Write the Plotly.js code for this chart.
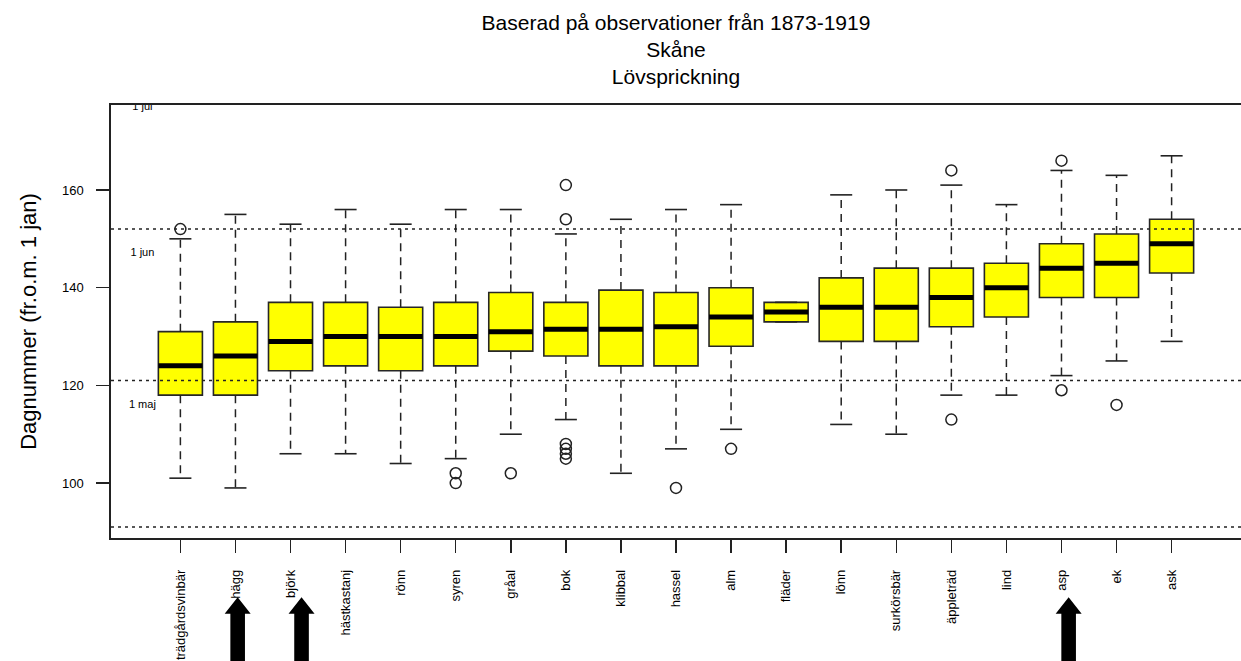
<!DOCTYPE html>
<html>
<head>
<meta charset="utf-8">
<script src="https://cdn.plot.ly/plotly-3.0.1.min.js"></script>
<style>html,body{margin:0;padding:0;background:#fff;}#chart{width:1241px;height:661px;}</style>
</head>
<body>
<div id="chart"></div>
<script>
// ---- data ----
var categories = ["trädgårdsvinbär","hägg","björk","hästkastanj","rönn","syren","gråal","bok","klibbal","hassel","alm","fläder","lönn","surkörsbär","äppleträd","lind","asp","ek","ask"];
var lowerWhisker = [101, 99, 106, 106, 104, 105, 110, 113, 102, 107, 111, 133, 112, 110, 118, 118, 122, 125, 129];
var q1Values     = [118, 118, 123, 124, 123, 124, 127, 126, 124, 124, 128, 133, 129, 129, 132, 134, 138, 138, 143];
var medianValues = [124, 126, 129, 130, 130, 130, 131, 131.5, 131.5, 132, 134, 135, 136, 136, 138, 140, 144, 145, 149];
var q3Values     = [131, 133, 137, 137, 136, 137, 139, 137, 139.5, 139, 140, 137, 142, 144, 144, 145, 149, 151, 154];
var upperWhisker = [150, 155, 153, 156, 153, 156, 156, 151, 154, 156, 157, 137, 159, 160, 161, 157, 164, 163, 167];
var outlierCats  = ["trädgårdsvinbär","syren","syren","gråal","bok","bok","bok","bok","bok","bok","hassel","alm","äppleträd","äppleträd","asp","asp","ek"];
var outlierVals  = [152, 102, 100, 102, 161, 154, 108, 107, 106, 105, 99, 107, 164, 113, 166, 119, 116];
var dateLineValues = [91, 121, 152];
var dateLabels = ["1 maj", "1 jun", "1 jul"];
var dateLabelDays = [121, 152, 182];
var yTicks = [100, 120, 140, 160];
var arrowCats = ["hägg", "björk", "asp"];
var arrowShift = [0.04, 0.2, 0.13];

// ---- derived ----
var xs = categories.map(function(c, i){ return i + 1; });
var font = "Liberation Sans, Arial, Helvetica, sans-serif";
var boxW = 0.8, capHalf = 0.2, medHalf = 0.4;

var whiskX = [], whiskY = [], capX = [], capY = [], medX = [], medY = [];
xs.forEach(function(x, i){
  whiskX.push(x, x, null, x, x, null);
  whiskY.push(q3Values[i], upperWhisker[i], null, q1Values[i], lowerWhisker[i], null);
  capX.push(x - capHalf, x + capHalf, null, x - capHalf, x + capHalf, null);
  capY.push(upperWhisker[i], upperWhisker[i], null, lowerWhisker[i], lowerWhisker[i], null);
  medX.push(x - medHalf, x + medHalf, null);
  medY.push(medianValues[i], medianValues[i], null);
});

var traces = [
  {
    type: "box", x: xs, q1: q1Values, median: medianValues, q3: q3Values,
    lowerfence: q1Values, upperfence: q3Values, width: boxW,
    fillcolor: "#ffff00", line: {color: "#262626", width: 1.6},
    hoverinfo: "skip", showlegend: false
  },
  {
    type: "scatter", mode: "lines", x: whiskX, y: whiskY,
    line: {color: "#222", width: 1.5, dash: "8px,6px"},
    hoverinfo: "skip", showlegend: false
  },
  {
    type: "scatter", mode: "lines", x: capX, y: capY,
    line: {color: "#222", width: 1.6},
    hoverinfo: "skip", showlegend: false
  },
  {
    type: "scatter", mode: "lines", x: medX, y: medY,
    line: {color: "#000", width: 5},
    hoverinfo: "skip", showlegend: false
  },
  {
    type: "scatter", mode: "markers",
    x: outlierCats.map(function(c){ return categories.indexOf(c) + 1; }),
    y: outlierVals,
    marker: {symbol: "circle-open", size: 11, color: "#222", line: {width: 1.5, color: "#222"}},
    hoverinfo: "skip", showlegend: false
  },
  {
    type: "scatter", mode: "text",
    x: dateLabelDays.map(function(){ return 0.31; }),
    y: dateLabelDays.map(function(d){ return d - 5; }),
    text: dateLabels, textposition: "middle center",
    textfont: {family: font, size: 11, color: "#000"},
    cliponaxis: true, hoverinfo: "skip", showlegend: false
  }
];

var shapes = dateLineValues.map(function(v){
  return {type: "line", xref: "paper", x0: 0, x1: 1, yref: "y", y0: v, y1: v,
          line: {color: "#222", width: 1.6, dash: "3px,4px"}, layer: "above"};
});

// arrow overlays (pixel-sized path anchored under the chosen categories)
arrowCats.forEach(function(c, k){
  shapes.push({
    type: "path", xref: "x", yref: "paper",
    xsizemode: "pixel", ysizemode: "pixel",
    xanchor: categories.indexOf(c) + 1 + arrowShift[k], yanchor: -0.137,
    path: "M0,0 L13,-16.5 L7.3,-16.5 L7.3,-90 L-7.3,-90 L-7.3,-16.5 L-13,-16.5 Z",
    fillcolor: "#000", line: {width: 0}, layer: "above"
  });
});

var layout = {
  width: 1241, height: 661,
  margin: {l: 111, r: 0, t: 105, b: 123},
  paper_bgcolor: "#fff", plot_bgcolor: "#fff",
  font: {family: font, color: "#000"},
  showlegend: false,
  title: {
    text: "Baserad på observationer från 1873-1919<br>Skåne<br>Lövsprickning",
    font: {family: font, size: 21, color: "#000"},
    xref: "paper", x: 0.5, xanchor: "center",
    yref: "container", y: 0.955, yanchor: "top"
  },
  xaxis: {
    range: [-0.26, 20.26], tickmode: "array", tickvals: xs, ticktext: categories,
    tickangle: -90, ticks: "outside", ticklen: 13, tickwidth: 1.5, tickcolor: "#222",
    ticklabelstandoff: 12,
    tickfont: {family: font, size: 13, color: "#000"},
    showgrid: false, zeroline: false, showline: true, mirror: true,
    linecolor: "#222", linewidth: 1.6
  },
  yaxis: {
    range: [88.75, 177.4], tickmode: "array", tickvals: yTicks,
    ticks: "outside", ticklen: 13, tickwidth: 1.5, tickcolor: "#222",
    ticklabelstandoff: 10,
    tickfont: {family: font, size: 13, color: "#000"},
    showgrid: false, zeroline: false, showline: true, mirror: true,
    linecolor: "#222", linewidth: 1.6,
    title: {text: "Dagnummer (fr.o.m. 1 jan)", font: {family: font, size: 22, color: "#000"}, standoff: 19}
  },
  shapes: shapes
};

Plotly.newPlot("chart", traces, layout, {displayModeBar: false, staticPlot: true});
</script>
</body>
</html>
